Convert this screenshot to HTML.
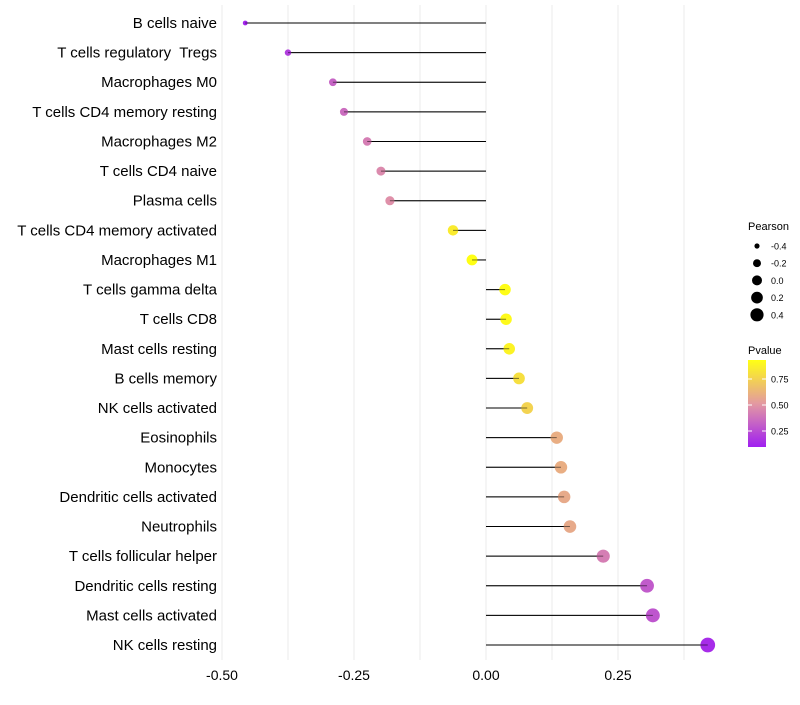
<!DOCTYPE html>
<html><head><meta charset="utf-8"><style>
body{margin:0;background:#fff;font-family:"Liberation Sans",sans-serif}
svg text{font-family:"Liberation Sans",sans-serif;white-space:pre}
</style></head><body>
<svg id="chart" width="800" height="700">
<g id="grid"></g><g id="marks"></g><g id="labels"></g><g id="legend"></g>
</svg>
<script>
const categories=["B cells naive","T cells regulatory  Tregs","Macrophages M0","T cells CD4 memory resting","Macrophages M2","T cells CD4 naive","Plasma cells","T cells CD4 memory activated","Macrophages M1","T cells gamma delta","T cells CD8","Mast cells resting","B cells memory","NK cells activated","Eosinophils","Monocytes","Dendritic cells activated","Neutrophils","T cells follicular helper","Dendritic cells resting","Mast cells activated","NK cells resting"];
const pearson=[-0.456,-0.375,-0.29,-0.269,-0.225,-0.199,-0.182,-0.0625,-0.0265,0.036,0.038,0.044,0.0625,0.078,0.134,0.142,0.148,0.159,0.222,0.305,0.316,0.42];
const pvalue=[0.12,0.2,0.33,0.36,0.42,0.46,0.48,0.85,0.93,0.92,0.91,0.88,0.8,0.75,0.6,0.6,0.58,0.58,0.42,0.3,0.28,0.14];
const xTicks=[-0.5,-0.25,0,0.25];
const xTickLabels=["-0.50","-0.25","0.00","0.25"];
const sizeVals=[-0.4,-0.2,0.0,0.2,0.4];
const sizeLabels=["-0.4","-0.2","0.0","0.2","0.4"];
const pTicks=[0.25,0.5,0.75];
const pTickLabels=["0.25","0.50","0.75"];
const NS="http://www.w3.org/2000/svg";
const x=v=>486+v*528;
const y=i=>23+i*(622/21);
const r=v=>Math.sqrt(Math.max(3,31+55*v));
const rl=v=>Math.sqrt(Math.max(3,25+46*v));
function lerp(a,b,t){return a.map((c,k)=>Math.round(c+(b[k]-c)*t));}
function col(p){const lo=[160,32,240],mid=[226,150,165],hi=[255,255,20];let c;
 if(p<0.5)c=lerp(lo,mid,Math.max(0,(p-0.1)/0.4));else c=lerp(mid,hi,Math.min(1,(p-0.5)/0.43));
 return `rgb(${c[0]},${c[1]},${c[2]})`;}
function mk(tag,attrs,parent,text){const e=document.createElementNS(NS,tag);for(const k in attrs)e.setAttribute(k,attrs[k]);if(text!==undefined)e.textContent=text;parent.appendChild(e);return e;}
const grid=document.getElementById('grid'),marks=document.getElementById('marks'),labels=document.getElementById('labels'),legend=document.getElementById('legend');
for(let v=-0.5;v<=0.376;v+=0.125){const g=mk('line',{x1:x(v),x2:x(v),y1:5,y2:660,stroke:'#ebebeb','stroke-width':1},grid);

}
xTicks.forEach((v,i)=>{const t=mk('text',{x:x(v),y:680,'text-anchor':'middle','font-size':14,fill:'#000'},labels,xTickLabels[i]);

});
categories.forEach((c,i)=>{
 const t=mk('text',{x:217,y:y(i)+5,'text-anchor':'end','font-size':15,fill:'#000'},labels,c);
 
 
 const l=mk('line',{x1:x(0),x2:x(pearson[i]),y1:y(i),y2:y(i),stroke:'#000','stroke-width':1},marks);
 
 
 const d=mk('circle',{cx:x(pearson[i]),cy:y(i),r:r(pearson[i]),fill:col(pvalue[i])},marks);
 
 
 mk('line',{x1:x(0),x2:x(pearson[i]),y1:y(i),y2:y(i),stroke:'#000','stroke-width':1,opacity:0.5},marks);
});
const lt=mk('text',{x:748,y:230,'font-size':11,fill:'#000'},legend,'Pearson');


sizeVals.forEach((v,i)=>{const cy=246+i*17.2;
 const c=mk('circle',{cx:757,cy:cy,r:rl(v),fill:'#000'},legend);
 
 
 const t=mk('text',{x:771,y:cy+3.5,'font-size':9,fill:'#000'},legend,sizeLabels[i]);
 
 });
const pt=mk('text',{x:748,y:354,'font-size':11,fill:'#000'},legend,'Pvalue');


const defs=mk('defs',{},legend);const gr=mk('linearGradient',{id:'pg',x1:0,y1:1,x2:0,y2:0},defs);
for(let k=0;k<=10;k++){const p=0.096+k*(0.93-0.096)/10;mk('stop',{offset:k/10,'stop-color':col(p)},gr);}
const bar=mk('rect',{x:748,y:360,width:18,height:87,fill:'url(#pg)'},legend);


const py=p=>405-(p-0.5)*104;
pTicks.forEach((p,i)=>{mk('line',{x1:748,x2:752,y1:py(p),y2:py(p),stroke:'#fff'},legend);mk('line',{x1:762,x2:766,y1:py(p),y2:py(p),stroke:'#fff'},legend);
 const t=mk('text',{x:771,y:py(p)+3.5,'font-size':9,fill:'#000'},legend,pTickLabels[i]);
 
 });
</script>
</body></html>
